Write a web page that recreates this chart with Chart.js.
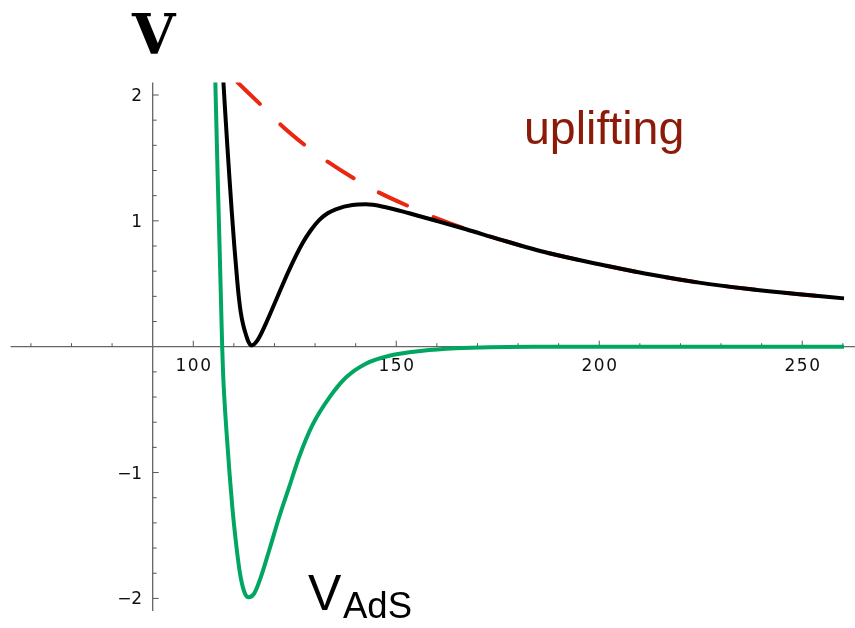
<!DOCTYPE html>
<html>
<head>
<meta charset="utf-8">
<title>V and V_AdS</title>
<script src="https://cdn.jsdelivr.net/npm/chart.js@4.4.1/dist/chart.umd.min.js"></script>
<style>
  html, body { margin: 0; padding: 0; background: #fff; }
  #wrap { position: relative; width: 855px; height: 628px; overflow: hidden; }
  #wrap canvas { position: absolute; left: 0; top: 0; }
  .lbl { position: absolute; white-space: nowrap; line-height: 1; }
  #lbl-v { left: 132px; top: 1px; font: bold 56px "DejaVu Serif", serif; color: #000; }
  #lbl-up { left: 524px; top: 101px; font: 46.5px "Liberation Sans", Arial, sans-serif; color: #8b1a08; }
  #lbl-vads { left: 308px; top: 564px; font: 50px "Liberation Sans", Arial, sans-serif; color: #000; }
  #lbl-ads { left: 343px; top: 585px; font: 36.5px "Liberation Sans", Arial, sans-serif; color: #000; }
</style>
</head>
<body>
<div id="wrap">
  <canvas id="chart" width="855" height="628"></canvas>
  <div class="lbl" id="lbl-v">V</div>
  <div class="lbl" id="lbl-up">uplifting</div>
  <div class="lbl" id="lbl-vads">V</div>
  <div class="lbl" id="lbl-ads">AdS</div>
</div>
<script>
// Total potential (black), uplift term (red dashed), AdS potential (green).
// Values.

var blackX = [107.39, 107.88, 108.40, 108.94, 109.51, 110.12, 110.81, 111.2, 111.70, 112.3, 112.98, 113.6, 114.3, 115.84, 117.91, 120.4, 123.6, 126.9, 129.0, 131.0, 133.1, 135.1, 139.2, 142.5, 147.4, 153.2, 159.8, 167.2, 175.4, 187.7, 200.0, 212.3, 224.6, 236.9, 249.3, 260.3];
var blackY = [2.12, 1.855, 1.589, 1.325, 1.060, 0.795, 0.530, 0.40, 0.272, 0.172, 0.095, 0.038, 0.01, 0.053, 0.186, 0.371, 0.609, 0.822, 0.927, 1.006, 1.06, 1.092, 1.126, 1.131, 1.108, 1.06, 1.001, 0.933, 0.853, 0.742, 0.655, 0.575, 0.509, 0.458, 0.416, 0.384];

var redX = [110.9, 117.1, 121.6, 128.2, 133.1, 140.5, 145.8, 153.6, 159.0, 168.0, 175.4, 187.7, 200.0, 212.3, 224.6, 236.9, 249.3, 260.3];
var redY = [2.1, 1.907, 1.762, 1.584, 1.47, 1.319, 1.224, 1.108, 1.033, 0.927, 0.853, 0.742, 0.655, 0.575, 0.509, 0.458, 0.416, 0.384];

var greenX = [105.42, 106.03, 106.48, 106.90, 107.12, 107.34, 107.78, 108.33, 108.92, 109.61, 110.44, 111.48, 112.56, 113.62, 115.02, 116.67, 118.72, 121.18, 123.65, 126.1, 129.4, 133.5, 137.6, 142.5, 148.3, 156.5, 164.7, 173.0, 185.0, 220.0, 260.3];
var greenY = [2.119, 1.325, 0.793, 0.269, 0.0, -0.209, -0.479, -0.741, -1.002, -1.273, -1.535, -1.797, -1.947, -1.991, -1.960, -1.828, -1.615, -1.351, -1.112, -0.874, -0.62, -0.405, -0.245, -0.135, -0.072, -0.033, -0.013, -0.004, -0.001, 0.0, 0.0];

// Axis ticks: minor every 10 / 0.2, labels on the majors
var xTicks = [60, 70, 80, 100, 110, 120, 130, 140, 150, 160, 170, 180, 190, 200, 210, 220, 230, 240, 250, 260];
var xLabels = [100, 150, 200, 250];
var yTicks = [-2, -1.8, -1.6, -1.4, -1.2, -1, -0.8, -0.6, -0.4, -0.2, 0.2, 0.4, 0.6, 0.8, 1, 1.2, 1.4, 1.6, 1.8, 2];
var yLabels = [-2, -1, 1, 2];

var xOrigin = 90;
var yOrigin = 0;

(function () {
  'use strict';

  function points(xs, ys) {
    return xs.map(function (x, i) { return { x: x, y: ys[i] }; });
  }

  function isIn(list, v) {
    for (var i = 0; i < list.length; i++) {
      if (Math.abs(list[i] - v) < 1e-9) return true;
    }
    return false;
  }

  function fmt(v) {
    return v < 0 ? '\u2212' + Math.abs(v) : String(v);
  }

  // Mathematica-style axes crossing at (90, 0), ticks pointing inward
  var axesPlugin = {
    id: 'crossAxes',
    beforeDatasetsDraw: function (chart) {
      var ctx = chart.ctx;
      var sx = chart.scales.x;
      var sy = chart.scales.y;
      var ox = sx.getPixelForValue(xOrigin);
      var oy = sy.getPixelForValue(yOrigin);
      var area = chart.chartArea;

      ctx.save();
      ctx.strokeStyle = '#666';
      ctx.lineWidth = 1.3;
      ctx.beginPath();
      ctx.moveTo(area.left, oy);
      ctx.lineTo(area.right, oy);
      ctx.moveTo(ox, area.top);
      ctx.lineTo(ox, area.bottom);
      ctx.stroke();

      ctx.lineWidth = 1;
      ctx.strokeStyle = '#555';
      ctx.beginPath();
      xTicks.forEach(function (t) {
        var px = sx.getPixelForValue(t);
        var len = isIn(xLabels, t) ? 6 : 3.5;
        ctx.moveTo(px, oy);
        ctx.lineTo(px, oy - len);
      });
      yTicks.forEach(function (t) {
        var py = sy.getPixelForValue(t);
        var len = isIn(yLabels, t) ? 6 : 4;
        ctx.moveTo(ox, py);
        ctx.lineTo(ox + len, py);
      });
      ctx.stroke();

      ctx.fillStyle = '#111';
      ctx.font = '17px "DejaVu Sans", sans-serif';
      ctx.textBaseline = 'alphabetic';
      ctx.textAlign = 'center';
      if ('letterSpacing' in ctx) ctx.letterSpacing = '1.5px';
      xLabels.forEach(function (t) {
        ctx.fillText(String(t), sx.getPixelForValue(t) + 0.75, oy + 24.5);
      });
      if ('letterSpacing' in ctx) ctx.letterSpacing = '0px';
      ctx.textAlign = 'right';
      yLabels.forEach(function (t) {
        ctx.fillText(fmt(t), ox - 10.5, sy.getPixelForValue(t) + 6);
      });
      ctx.restore();
    }
  };

  var common = {
    fill: false,
    pointRadius: 0,
    pointHoverRadius: 0,
    borderWidth: 4,
    cubicInterpolationMode: 'monotone',
    borderJoinStyle: 'round',
    clip: 0
  };

  new Chart(document.getElementById('chart').getContext('2d'), {
    type: 'line',
    data: {
      datasets: [
        Object.assign({}, common, { label: 'V', data: points(blackX, blackY), borderColor: '#000000', borderCapStyle: 'butt' }),
        Object.assign({}, common, { label: 'V_AdS', data: points(greenX, greenY), borderColor: '#00a661', borderCapStyle: 'butt' }),
        Object.assign({}, common, { label: 'uplifting', data: points(redX, redY), borderColor: '#ea2710', borderDash: [31, 29], borderCapStyle: 'round' })
      ]
    },
    options: {
      responsive: false,
      animation: false,
      events: [],
      layout: { padding: { left: 10.6, right: 0, top: 82.4, bottom: 17 } },
      scales: {
        x: { type: 'linear', min: 55, max: 263, display: false },
        y: { type: 'linear', min: -2.1, max: 2.1, display: false }
      },
      plugins: {
        legend: { display: false },
        tooltip: { enabled: false },
        title: { display: false }
      }
    },
    plugins: [axesPlugin]
  });
})();
</script>
</body>
</html>
